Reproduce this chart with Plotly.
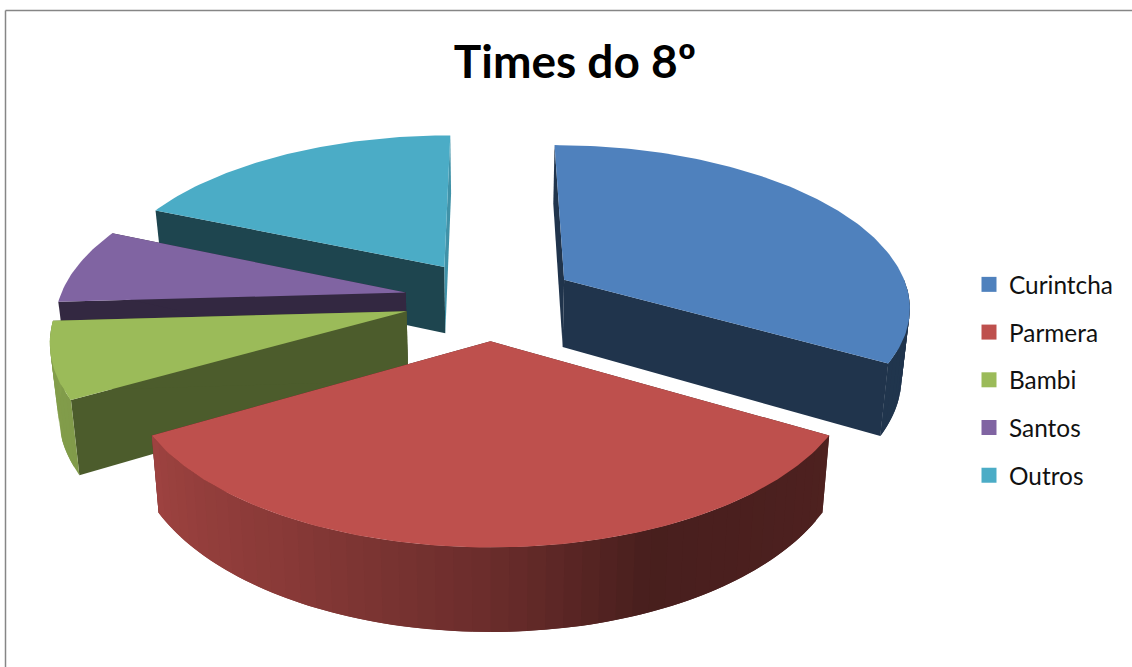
import numpy as np
import plotly.graph_objects as go

# ---- data ----
categories = ["Curintcha", "Parmera", "Bambi", "Santos", "Outros"]
values = [9, 9, 2, 2, 5]
colors = ["#4F81BD", "#BE504D", "#9BBB59", "#8064A2", "#4BACC6"]
title_text = "Times do 8º"

# ---- 3-D pie look (perspective projection onto a pixel-sized axis) ----
W, H = 1132, 667
CX, CY = 490.5, 299.5
AX, AY = 346.5, 160.7
PERSP = 0.152
EXPLODE = 0.25
THICK = 68.5
BASE_SCALE = 0.98
SHADE_THETA = [90, 120, 158, 180, 210, 240, 267]
SHADE_VALUE = [0.40, 0.41, 0.38, 0.56, 0.72, 0.83, 0.85]
RADIAL_SHADE = {  # (start-wall, end-wall) brightness per slice
    "Curintcha": (0.40, 0.40), "Parmera": (0.40, 0.40), "Bambi": (0.49, 0.49),
    "Santos": (0.40, 0.40), "Outros": (0.40, 0.85),
}


def project(u, v, lower=False):
    u, v = np.asarray(u, float), np.asarray(v, float)
    f = 1.0 / (1.0 - PERSP * v)
    x, y = AX * u * f, CY + AY * v * f
    if lower:
        return CX + BASE_SCALE * x, y + THICK * f
    return CX + x, y


def shade(hex_color, k):
    r, g, b = (int(hex_color[i:i + 2], 16) for i in (1, 3, 5))
    return f"rgb({r * k:.0f},{g * k:.0f},{b * k:.0f})"


def poly(fig, xs, ys, color):
    fig.add_trace(go.Scatter(
        x=list(xs) + [xs[0]], y=list(ys) + [ys[0]], mode="lines", fill="toself",
        fillcolor=color, line=dict(width=0), hoverinfo="skip",
        showlegend=False))


fig = go.Figure()
total = sum(values)
edges = np.concatenate([[0], np.cumsum(values)]) * 360.0 / total
slices = []
for name, col, t0, t1 in zip(categories, colors, edges[:-1], edges[1:]):
    mid = np.radians((t0 + t1) / 2)
    slices.append(dict(name=name, col=col, t0=t0, t1=t1,
                       cu=EXPLODE * np.sin(mid), cv=-EXPLODE * np.cos(mid)))
slices.sort(key=lambda s: s["cv"])  # painter's order, back to front

for s in slices:
    cu, cv, t0, t1, col = s["cu"], s["cv"], s["t0"], s["t1"], s["col"]

    def rim(theta_deg):
        th = np.radians(theta_deg)
        return cu + np.sin(th), cv - np.cos(th)

    # flat cut faces
    for th, k in zip((t0, t1), RADIAL_SHADE[s["name"]]):
        ru, rv = rim(th)
        xa, ya = project([cu, ru], [cv, rv])
        xb, yb = project([ru, cu], [rv, cv], lower=True)
        poly(fig, list(xa) + list(xb), list(ya) + list(yb), shade(col, k))

    # curved outer wall, in narrow shaded bands that overlap the next one
    a, b = max(t0, 90.0), min(t1, 267.0)
    if b > a + 1:
        n = max(1, int(round((b - a) / 2.5)))
        marks = np.linspace(a, b, n + 1)
        step = marks[1] - marks[0]
        for m0 in marks[:-1]:
            ths = np.linspace(m0, min(m0 + 2 * step, b), 5)
            ru, rv = rim(ths)
            xa, ya = project(ru, rv)
            xb, yb = project(ru[::-1], rv[::-1], lower=True)
            k = float(np.interp(m0 + step / 2, SHADE_THETA, SHADE_VALUE))
            poly(fig, list(xa) + list(xb), list(ya) + list(yb), shade(col, k))

    # top face
    ths = np.linspace(t0, t1, int(t1 - t0) + 2)
    ru, rv = rim(ths)
    xt, yt = project(np.r_[cu, ru], np.r_[cv, rv])
    poly(fig, list(xt), list(yt), col)

# legend entries
for name, col in zip(categories, colors):
    fig.add_trace(go.Scatter(
        x=[None], y=[None], mode="markers", name=name, legendgroup=name,
        marker=dict(symbol="square", size=15, color=col)))

fig.update_layout(
    width=W, height=H, margin=dict(l=0, r=0, t=0, b=0),
    paper_bgcolor="white", plot_bgcolor="white",
    title=dict(text=f"<b>{title_text}</b>", x=575 / W, xanchor="center",
               y=1 - 62 / H, yanchor="middle",
               font=dict(family="Lato", size=46, color="black")),
    xaxis=dict(range=[0, W], visible=False, fixedrange=True),
    yaxis=dict(range=[H, 0], visible=False, fixedrange=True),
    legend=dict(x=969 / W, xanchor="left", y=1 - 262 / H, yanchor="top",
                font=dict(family="Lato", size=24.4, color="#111111"),
                tracegroupgap=13, itemclick=False, itemdoubleclick=False,
                bgcolor="rgba(0,0,0,0)"),
    shapes=[
        dict(type="line", xref="x", yref="y", x0=5.5, x1=W, y0=10.5, y1=10.5,
             line=dict(color="#868686", width=1.5)),
        dict(type="line", xref="x", yref="y", x0=5.5, x1=5.5, y0=10.5, y1=H,
             line=dict(color="#868686", width=1.5)),
    ],
)
fig.write_html("out.html", config=dict(displayModeBar=False),
               post_script="document.body.style.margin='0';document.documentElement.style.overflow='hidden';")
